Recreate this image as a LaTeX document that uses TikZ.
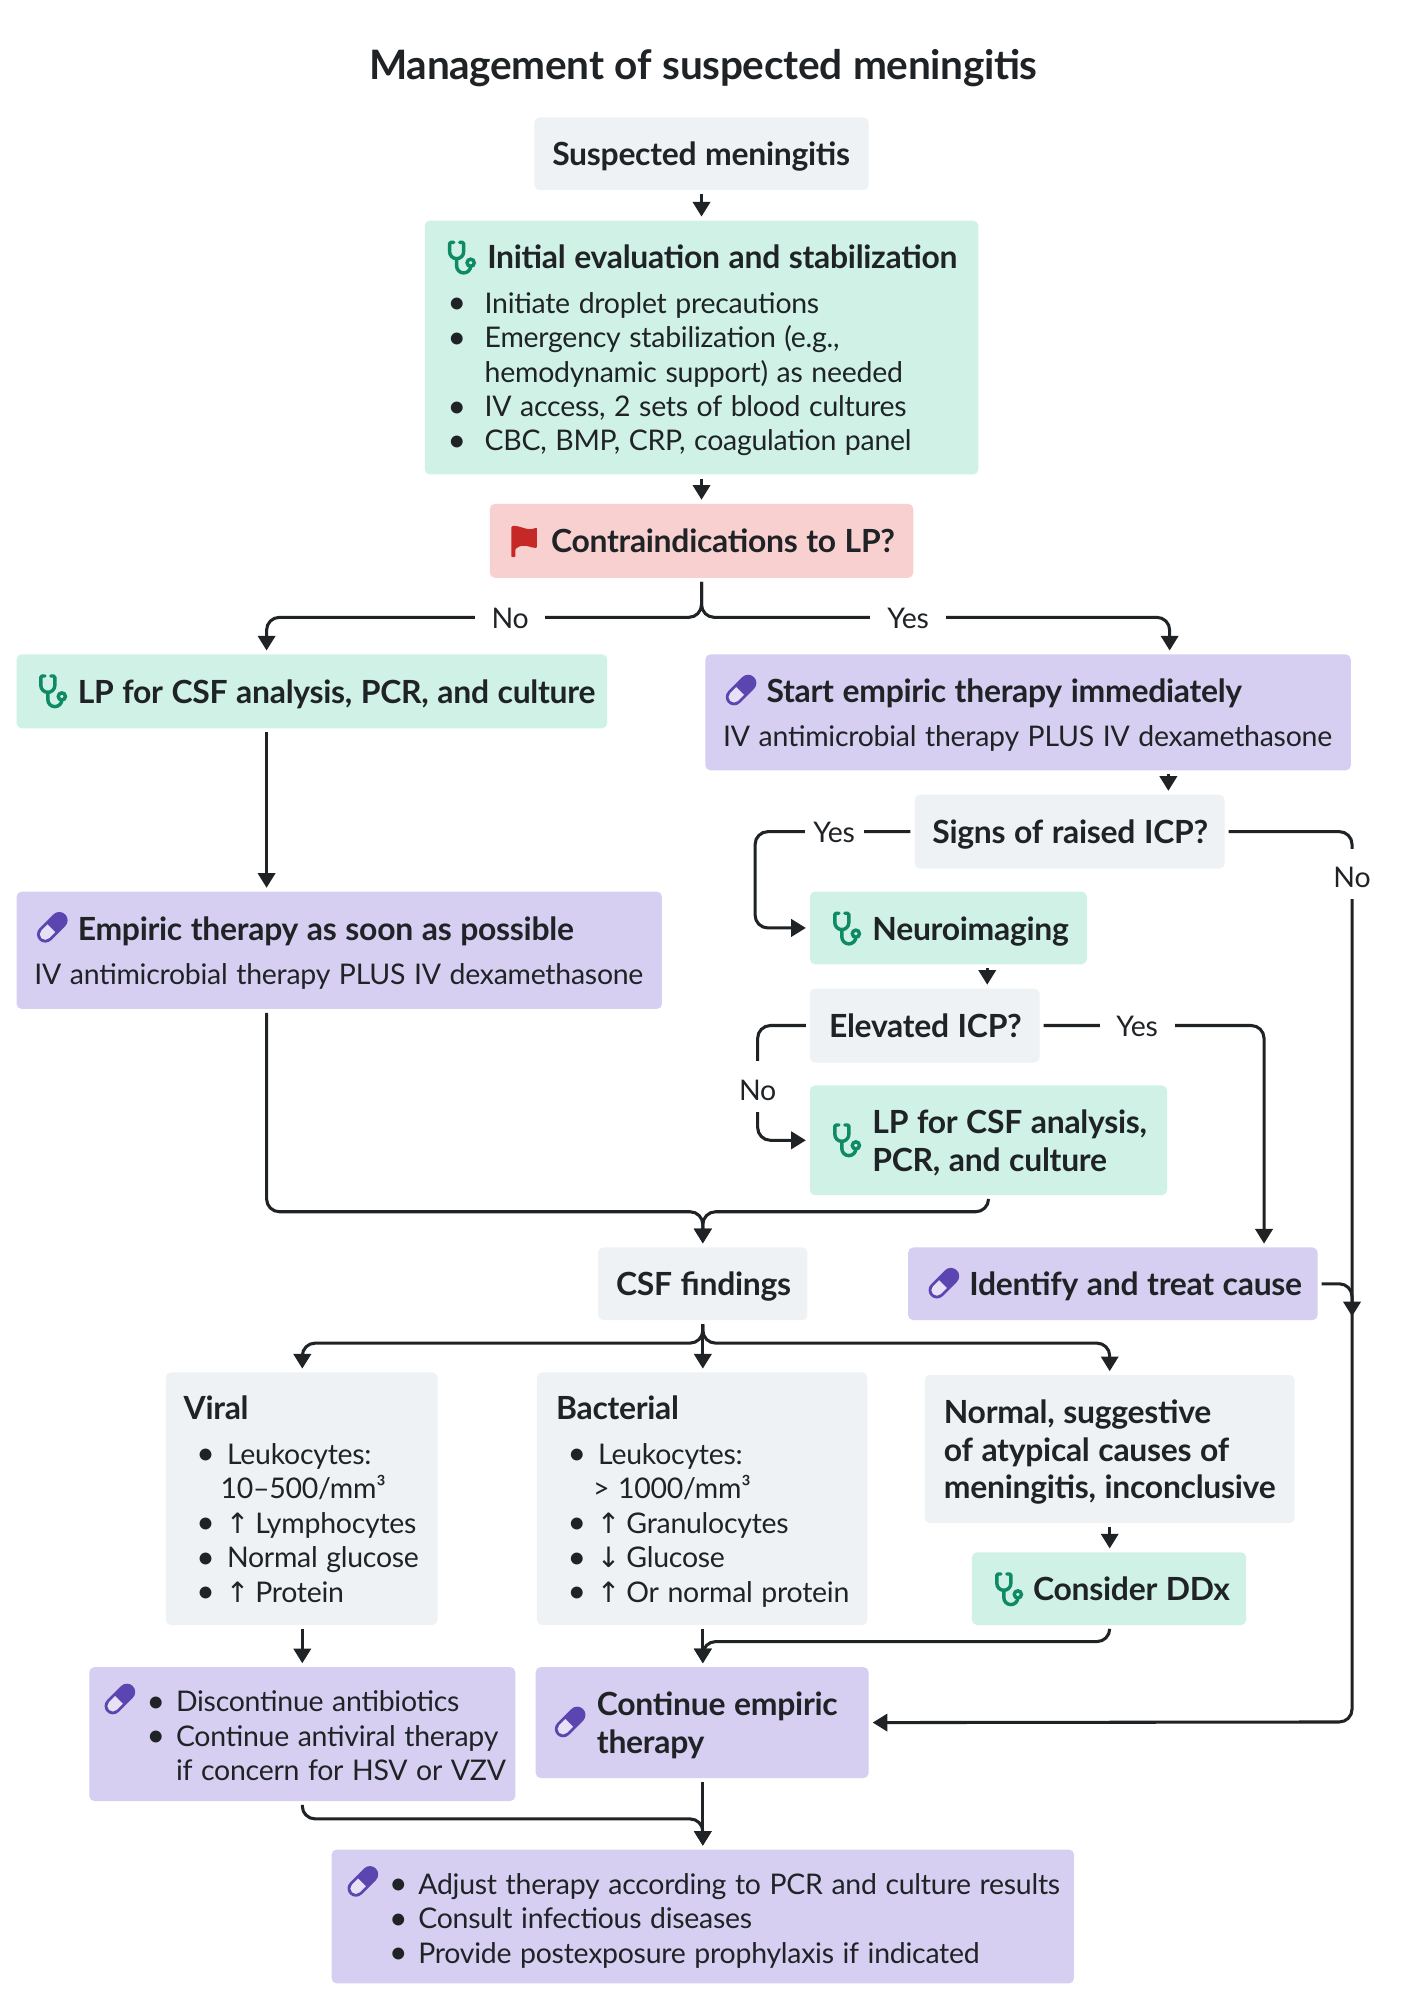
\documentclass[tikz,border=0pt]{standalone}
\usepackage{fontspec}
\setmainfont{Lato}[LetterSpace=-0.9]
\newfontfamily\arrfont{DejaVu Sans}
\usetikzlibrary{arrows.meta,calc}
\definecolor{ink}{HTML}{1F2326}
\definecolor{gbox}{HTML}{CFF1E6}
\definecolor{pbox}{HTML}{D6CFF1}
\definecolor{nbox}{HTML}{EEF2F5}
\definecolor{rbox}{HTML}{F9D0D0}
\definecolor{gicon}{HTML}{0E8A65}
\definecolor{picon}{HTML}{5B45B0}
\definecolor{plight}{HTML}{E6E1F7}
\definecolor{ricon}{HTML}{C62828}
\newcommand\bodyf{\fontsize{22.3}{27}\selectfont}
\newcommand\headf{\fontsize{25}{29.5}\selectfont\bfseries}
\newcommand\bul[2]{\hspace*{#1pt}\makebox[\dimexpr#2pt-#1pt\relax][l]{\raisebox{-0.5pt}{\fontsize{25}{27}\selectfont•}}}
\newcommand\ua{{\arrfont\fontsize{22}{27}\selectfont\hspace*{-1pt}↑\hspace*{-2pt}}}
\newcommand\da{{\arrfont\fontsize{22}{27}\selectfont\hspace*{-1pt}↓\hspace*{-2pt}}}
\newcommand\bxn[7]{%
  \pgfmathsetmacro\bw{#5-#3}\pgfmathsetmacro\bh{#6-#4}%
  \node[bx,#2,text width=\bw pt,minimum height=\bh pt] (#1) at ({(#3+#5)/2},{(#4+#6)/2}) {\spaceskip=6.7pt\xspaceskip=6.7pt\rightskip=-60pt plus 1fil\relax\rule{0pt}{27pt}#7\rule[-8pt]{0pt}{8pt}\par};}
\tikzset{
  x=1pt,y=-1pt,
  bx/.style={rectangle,rounded corners=4pt,inner sep=0pt,align=left,text=ink,font=\bodyf},
  gb/.style={fill=gbox},pb/.style={fill=pbox},nb/.style={fill=nbox},rb/.style={fill=rbox},
  conn/.style={draw=ink,line width=2.4pt,rounded corners=10pt,-{Triangle[width=13.5pt,length=11.5pt]}},
  lab/.style={fill=white,inner sep=0pt,text=ink,font=\bodyf,minimum height=22pt},
  short/.style={shorten <=3pt,shorten >=3pt},
  stetho/.pic={
    \draw[gicon,line width=2.7pt,line cap=round,line join=round]
      (-6.3,-12) -- (-8.5,-12) .. controls (-9.2,-12) and (-9.5,-11.7) .. (-9.5,-11) -- (-9.5,-4.7) arc[start angle=180,end angle=0,radius=5.5] -- (1.5,-11) .. controls (1.5,-11.7) and (1.2,-12) .. (0.5,-12) -- (-1.6,-12);
    \draw[gicon,line width=2.7pt,line cap=round] (-4,0.8) -- (-4,6.5) arc[start angle=180,end angle=0,radius=5.5];
    \draw[gicon,line width=2.7pt] (7,4) circle[radius=2.8];
  },
  pill/.pic={
    \begin{scope}[rotate=45]
      \draw[picon,line width=13pt,line cap=round] (-7.8,0) -- (7.8,0);
      \fill[plight] (-1,-4.3) -- (-7.8,-4.3) arc[start angle=-90,delta angle=-180,radius=4.3] -- (-1,4.3) -- cycle;
    \end{scope}
  },
  flagicon/.pic={
    \fill[ricon,rounded corners=0.8pt] (-10,-11.5) .. controls (-3,-12.5) and (2,-7) .. (10,-10.5) -- (10,5.5) .. controls (5,6) and (0,1) .. (-7,6.5) -- (-7,11.5) .. controls (-7,13) and (-10,13) .. (-10,11.5) -- cycle;
  },
}
\begin{document}
\begin{tikzpicture}
\useasboundingbox (0,0) rectangle (1106,1568);
\fill[white] (0,0) rectangle (1106,1568);
\node[text=ink,font=\fontsize{31.8}{36}\selectfont\bfseries] (title) at (551.5,53.5) {\spaceskip=8.5pt Management of suspected meningitis};

\bxn{susp}{nb}{419}{92}{681}{149}{\headf\hspace*{14pt}Suspected meningitis}
\bxn{init}{gb}{333}{173}{767}{372}{{\headf\hspace*{49pt}Initial evaluation and stabilization}\\[8pt]
\bul{18}{47}Initiate droplet precautions\\
\bul{18}{47}Emergency stabilization (e.g.,\\
\hspace*{47pt}hemodynamic support) as needed\\
\bul{18}{47}IV access, 2 sets of blood cultures\\
\bul{18}{47}CBC, BMP, CRP, coagulation panel}
\bxn{contra}{rb}{384}{395}{716}{453}{\headf\hspace*{48pt}Contraindications to LP?}
\bxn{lpa}{gb}{13}{513}{476}{571}{\headf\hspace*{48pt}LP for CSF analysis, PCR, and culture}
\bxn{start}{pb}{553}{513}{1059}{604}{{\headf\hspace*{48pt}Start empiric therapy immediately}\\[8pt]
\hspace*{14pt}IV antimicrobial therapy PLUS IV dexamethasone}
\bxn{emp}{pb}{13}{699}{519}{791}{{\headf\hspace*{48pt}Empiric therapy as soon as possible}\\[8pt]
\hspace*{14pt}IV antimicrobial therapy PLUS IV dexamethasone}
\bxn{signs}{nb}{717}{623}{960}{681}{\headf\hspace*{14pt}Signs of raised ICP?}
\bxn{neuro}{gb}{635}{699}{852}{756}{\headf\hspace*{49pt}Neuroimaging}
\bxn{elev}{nb}{635}{775}{815}{833}{\headf\hspace*{15pt}Elevated ICP?}
\bxn{lpb}{gb}{635}{851}{915}{937}{\headf\hspace*{49pt}LP for CSF analysis,\\\hspace*{49pt}PCR, and culture}
\bxn{csf}{nb}{469}{978}{633}{1035}{\headf\hspace*{14pt}CSF findings}
\bxn{ident}{pb}{712}{978}{1033}{1035}{\headf\hspace*{48pt}Identify and treat cause}
\bxn{viral}{nb}{130}{1076}{343}{1274}{{\headf\hspace*{14pt}Viral}\\[8pt]
\bul{24}{48}Leukocytes:\\
\hspace*{43pt}10–500/mm³\\
\bul{24}{48}\ua{} Lymphocytes\\
\bul{24}{48}Normal glucose\\
\bul{24}{48}\ua{} Protein}
\bxn{bact}{nb}{421}{1076}{680}{1274}{{\headf\hspace*{15pt}Bacterial}\\[8pt]
\bul{24}{48}Leukocytes:\\
\hspace*{44pt}> 1000/mm³\\
\bul{24}{48}\ua{} Granulocytes\\
\bul{24}{48}\da{} Glucose\\
\bul{24}{48}\ua{} Or normal protein}
\bxn{norm}{nb}{725}{1078}{1015}{1194}{\headf\hspace*{15pt}Normal, suggestive\\\hspace*{15pt}of atypical causes of\\\hspace*{15pt}meningitis, inconclusive}
\bxn{ddx}{gb}{762}{1217}{977}{1274}{\headf\hspace*{48pt}Consider DDx}
\bxn{disc}{pb}{70}{1307}{404}{1412}{\bul{45}{68}Discontinue antibiotics\\
\bul{45}{68}Continue antiviral therapy\\
\hspace*{68pt}if concern for HSV or VZV}
\bxn{cont}{pb}{420}{1307}{681}{1394}{\headf\hspace*{48pt}Continue empiric\\\hspace*{48pt}therapy}
\bxn{adj}{pb}{260}{1450}{842}{1555}{\bul{45}{68}Adjust therapy according to PCR and culture results\\
\bul{45}{68}Consult infectious diseases\\
\bul{45}{68}Provide postexposure prophylaxis if indicated}

% icons
\pic at (362,202) {stetho};
\pic at (41.5,542) {stetho};
\pic at (664,728) {stetho};
\pic at (664,894) {stetho};
\pic at (791,1246) {stetho};
\pic at (411,424) {flagicon};
\pic at (581,541) {pill};
\pic at (41,727) {pill};
\pic at (740,1006) {pill};
\pic at (94,1332) {pill};
\pic at (447,1350) {pill};
\pic at (284.5,1475) {pill};

% connectors
\coordinate (jA) at (550,484);
\coordinate (jB) at (551,950);
\coordinate (jC) at (551,1053);
\coordinate (jD) at (551,1287);
\coordinate (jE) at (551,1426);
\coordinate (jF) at (1060,1032);
\draw[conn,short] (susp.south -| jA) -- (init.north -| jA);
\draw[conn,short] (init.south -| jA) -- (contra.north -| jA);
\draw[conn,short] (contra.south -| jA) -- (jA) -- (209,484) -- (209,513);
\draw[conn,short] (contra.south -| jA) -- (jA) -- (917,484) -- (917,513);
\node[lab,minimum width=55pt] (lno) at (400,485) {No};
\node[lab,minimum width=60pt] (lyes) at (712,485) {Yes};
\draw[conn,short] (209,571) -- (209,699);
\draw[conn,short] (209,791) -- (209,950) -- (jB) -- (csf.north -| jB);
\draw[conn,short] (775,937) -- (775,950) -- (jB) -- (csf.north -| jB);
\draw[conn,short] (916,604) -- (916,623);
\draw[conn,short] (signs.west) -- (592,652) -- (592,727.5) -- (neuro.west);
\node[lab,minimum width=46pt] (ly2) at (654,653) {Yes};
\draw[conn,short] (774,756) -- (774,775);
\draw[conn,short] (elev.west) -- (594,804) -- (594,894) -- (lpb.west);
\node[lab,minimum width=30pt,minimum height=40pt,text height=22pt,text depth=0pt] (ln2) at (594,852) {No};
\draw[conn,short] (elev.east) -- (991,804) -- (991,978);
\node[lab,minimum width=59pt] (ly3) at (891.5,805) {Yes};
\draw[conn,short] (signs.east) -- (1060,652) -- (1060,1350) -- (cont.east);
\node[lab,minimum width=30pt,minimum height=39pt,text height=21pt,text depth=0pt] (ln3) at (1060,685) {No};
\draw[conn,shorten <=3pt] (ident.east) -- (1060,1006.5) -- (jF);
\draw[conn,short] (csf.south -| jC) -- (551,1076);
\draw[conn,short] (csf.south -| jC) -- (jC) -- (237,1053) -- (237,1076);
\draw[conn,short] (csf.south -| jC) -- (jC) -- (870,1053) -- (870,1078);
\draw[conn,short] (237,1274) -- (237,1307);
\draw[conn,short] (551,1274) -- (551,1307);
\draw[conn,short] (870,1194) -- (870,1217);
\draw[conn,short] (870,1274) -- (870,1287) -- (jD) -- (551,1307);
\draw[conn,short] (551,1394) -- (551,1450);
\draw[conn,short] (237,1412) -- (237,1426) -- (jE) -- (551,1450);
\end{tikzpicture}
\end{document}
